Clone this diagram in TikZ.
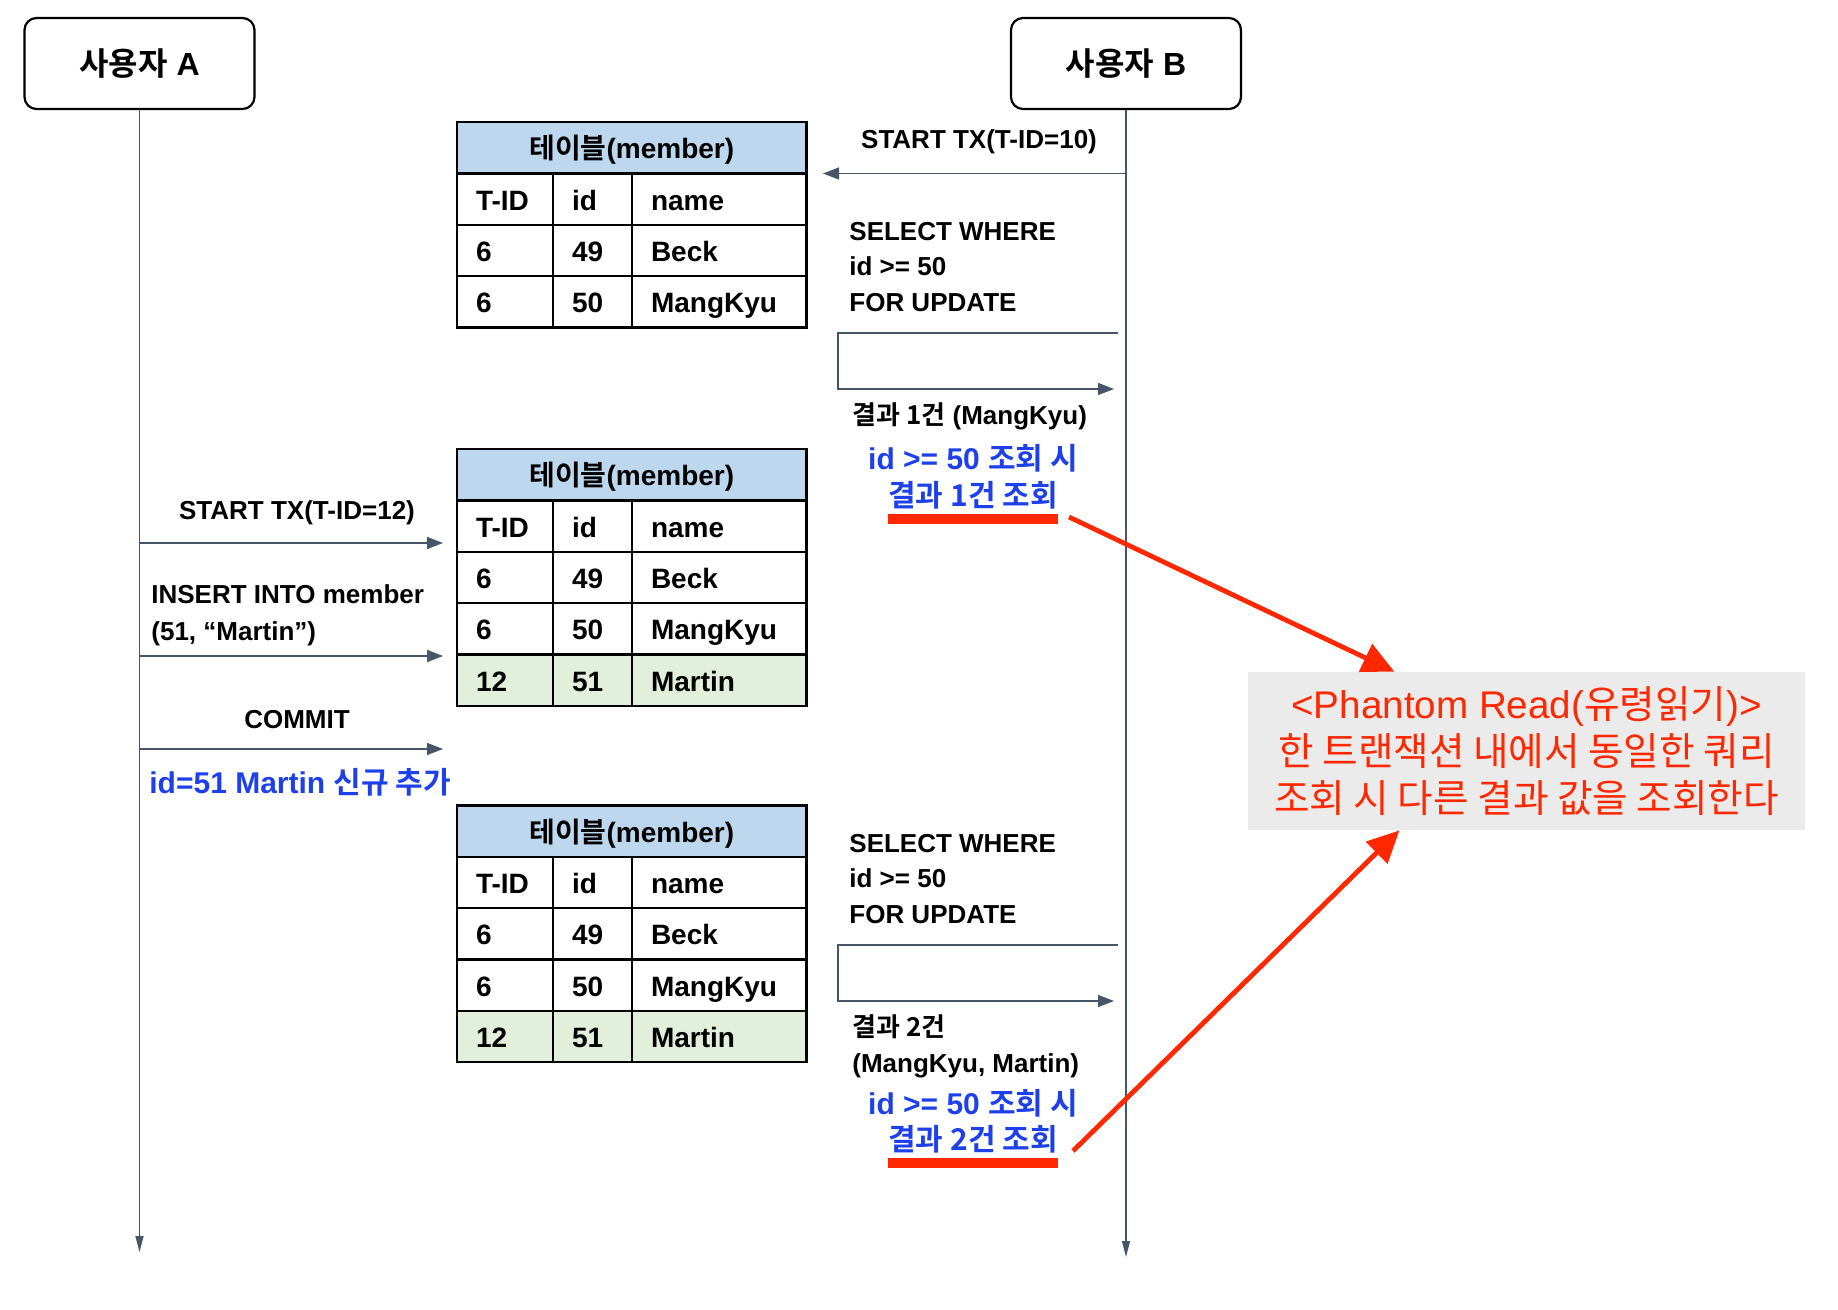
\documentclass[tikz,border=0pt]{standalone}
\usepackage{fontspec}
\setmainfont{Liberation Sans}
\newfontfamily\krfont{Noto Sans CJK KR}[BoldFont={Noto Sans CJK KR Bold}]
\newcommand\kr[1]{{\krfont #1}}
\usetikzlibrary{arrows.meta}

\definecolor{linec}{RGB}{71,85,105}
\definecolor{headblue}{RGB}{189,215,238}
\definecolor{rowgreen}{RGB}{226,239,218}
\definecolor{noteblue}{RGB}{30,64,235}
\definecolor{alertred}{RGB}{255,40,0}
\definecolor{boxgray}{RGB}{235,235,235}

% one member table: name, top y, rows (no/T-ID/id/name/fill)
\newcommand\membertable[3]{%
  \node[thead] (#1-h) at (457,#2) {\kr{테이블}(member)};
  \foreach \rno/\rtid/\rid/\rname/\rfill in {#3} {
    \node[tcell, text width=29pt, fill=\rfill] (#1-\rno-1) at (457,{#2+51.6+(\rno-1)*51.3}) {\rtid};
    \node[tcell, text width=20.5pt, fill=\rfill] (#1-\rno-2) at (553,{#2+51.6+(\rno-1)*51.3}) {\rid};
    \node[tcell, text width=68.25pt, fill=\rfill] (#1-\rno-3) at (632,{#2+51.6+(\rno-1)*51.3}) {\rname};
  }%
}

\begin{document}
\begin{tikzpicture}[x=0.5pt, y=-0.5pt,
    user/.style={rectangle, rounded corners=6pt, draw=black, line width=1.1pt,
        minimum width=115pt, minimum height=45.5pt, font=\fontsize{16}{19}\selectfont\bfseries},
    life/.style={draw=linec, line width=0.75pt, -{Triangle[length=8pt, width=4pt]}},
    msg/.style={draw=linec, line width=0.75pt, -{Triangle[length=8pt, width=6pt]}},
    thead/.style={rectangle, draw=black, line width=1.25pt, fill=headblue, anchor=north west,
        minimum width=174.75pt, minimum height=25.8pt, inner sep=0pt, outer sep=0pt,
        text height=12pt, text depth=1pt, font=\fontsize{14}{16}\selectfont\bfseries},
    tcell/.style={rectangle, draw=black, line width=1.25pt, anchor=north west, align=left,
        inner xsep=9.5pt, inner ysep=0pt, outer sep=0pt, minimum height=25.7pt,
        text height=12pt, text depth=1pt, font=\fontsize{14}{16}\selectfont\bfseries},
    lbl/.style={inner sep=0pt, align=left, font=\fontsize{13}{17.75}\selectfont\bfseries},
    note/.style={inner sep=0pt, text=noteblue, font=\fontsize{15}{18}\selectfont\bfseries},
    redbar/.style={draw=alertred, line width=5pt},
    redarrow/.style={draw=alertred, line width=2.4pt, -{Triangle[length=16pt, width=15pt]}},
    phbox/.style={rectangle, fill=boxgray, minimum width=278.5pt, minimum height=79pt,
        align=center, text=alertred, font=\fontsize{19.3}{23.5}\selectfont}]
\useasboundingbox (0,0) rectangle (1838,1310);

% users and lifelines
\node[user] (ua) at (139.5,63.5) {\kr{사용자} A};
\node[user] (ub) at (1126,63.5) {\kr{사용자} B};
\coordinate (a-end) at (139.5,1252);
\coordinate (b-end) at (1126,1257);
\draw[life] (ua) -- (a-end);
\draw[life] (ub) -- (b-end);

% tables
\membertable{t1}{121.9}{1/T-ID/id/name/white, 2/6/49/Beck/white, 3/6/50/MangKyu/white}
\membertable{t2}{449}{1/T-ID/id/name/white, 2/6/49/Beck/white, 3/6/50/MangKyu/white, 4/12/51/Martin/rowgreen}
\membertable{t3}{805.3}{1/T-ID/id/name/white, 2/6/49/Beck/white, 3/6/50/MangKyu/white, 4/12/51/Martin/rowgreen}

% user B, first query
\node[lbl] (tx10) at (979,141.5) {START TX(T-ID=10)};
\coordinate (b-tx) at (1126,173.5);
\coordinate (e-tx10) at (823,173.5);
\draw[msg] (b-tx) -- (e-tx10);
\node[lbl, anchor=north west] (sel1) at (849,221.7) {SELECT WHERE\\id >= 50\\FOR UPDATE};
\coordinate (b-sel1) at (1118,333);
\coordinate (b-ret1) at (1114,389);
\draw[msg] (b-sel1) -- ++(-280,0) |- (b-ret1);
\node[lbl, anchor=west, font=\fontsize{13}{17}\selectfont\bfseries] (res1) at (852,416) {\kr{결과 1건} (MangKyu)};
\node[note] (q1a) at (973,458) {id >= 50 \kr{조회 시}};
\node[note] (q1b) at (973,495) {\kr{결과 1건 조회}};
\draw[redbar] ([yshift=-6.5pt]q1b.base west) -- ([yshift=-6.5pt]q1b.base east);

% user A, insert
\node[lbl] (tx12) at (297,512.5) {START TX(T-ID=12)};
\node[lbl, anchor=north west, font=\fontsize{13}{18.5}\selectfont\bfseries] (ins) at (151,584.7) {INSERT INTO member\\(51, “Martin”)};
\node[lbl] (cmt) at (297,719.5) {COMMIT};
\node[note, anchor=west] (added) at (149,782) {id=51 Martin \kr{신규 추가}};
\foreach \y/\n in {543/tx, 656/ins, 749/cmt} {
  \coordinate (a-\n) at (139.5,\y);
  \coordinate (e-\n) at (443,\y);
}
\draw[msg] (a-tx) -- (e-tx);
\draw[msg] (a-ins) -- (e-ins);
\draw[msg] (a-cmt) -- (e-cmt);

% user B, second query
\node[lbl, anchor=north west] (sel2) at (849,833.7) {SELECT WHERE\\id >= 50\\FOR UPDATE};
\coordinate (b-sel2) at (1118,945);
\coordinate (b-ret2) at (1114,1001);
\draw[msg] (b-sel2) -- ++(-280,0) |- (b-ret2);
\node[lbl, anchor=north west, font=\fontsize{13}{18}\selectfont\bfseries] (res2) at (852,1014) {\kr{결과 2건}\\(MangKyu, Martin)};
\node[note] (q2a) at (973,1103) {id >= 50 \kr{조회 시}};
\node[note] (q2b) at (973,1139) {\kr{결과 2건 조회}};
\draw[redbar] ([yshift=-6.5pt]q2b.base west) -- ([yshift=-6.5pt]q2b.base east);

% phantom read note
\node[phbox] (ph) at (1526.5,751) {<Phantom Read(\kr{유령읽기})>\\\kr{한 트랜잭션 내에서 동일한 쿼리}\\\kr{조회 시 다른 결과 값을 조회한다}};
\coordinate (r1) at (1069,517);
\coordinate (r2) at (1073,1151);
\draw[redarrow] (r1) -- (ph.149);
\draw[redarrow] (r2) -- (ph.212);
\end{tikzpicture}
\end{document}
